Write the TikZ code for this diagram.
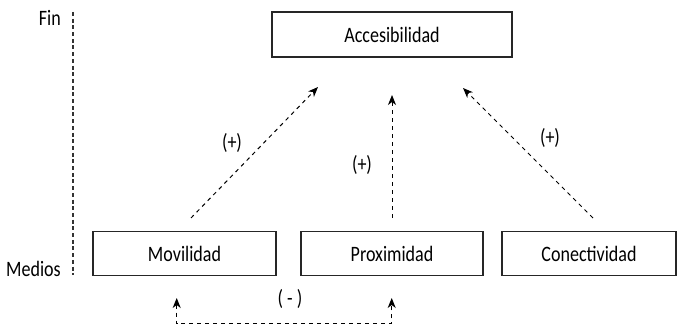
\documentclass[tikz,border=0pt]{standalone}
\usepackage{fontspec}
\setmainfont[FakeStretch=0.82]{Carlito}
\usetikzlibrary{arrows.meta}
\begin{document}
\begin{tikzpicture}[x=1pt,y=1pt,
  box/.style={draw=black!85,line width=1.1pt,minimum height=44pt,inner sep=0pt,font=\fontsize{22}{24}\selectfont},
  lbl/.style={font=\fontsize{22}{24}\selectfont,inner sep=0pt},
  conn/.style={dash pattern=on 4pt off 4pt,line width=1pt,-{Stealth[length=10pt,width=8pt,inset=3pt]}},
  axis/.style={line width=1.3pt,dash pattern=on 4pt off 2.7pt,draw=black!80}]
\useasboundingbox (0,0) rectangle (677,329);
\node[box,minimum width=240pt,minimum height=45pt] (acc) at (392,294.5) {Accesibilidad};
\node[box,minimum width=183pt] (mov) at (184.5,75.5) {Movilidad};
\node[box,minimum width=182pt] (prox) at (392,75.5) {Proximidad};
\node[box,minimum width=174pt] (con) at (589,75.5) {Conectividad};
\coordinate (axtop) at (73,317);
\coordinate (axbot) at (73,54);
\draw[axis] (axtop) -- (axbot);
\node[lbl,anchor=east] (fin) at (61,311) {Fin};
\node[lbl,anchor=east] (medios) at (61,60) {Medios};
\coordinate (m1) at (191,111);
\coordinate (m2) at (318,242);
\coordinate (p1) at (392,111);
\coordinate (p2) at (392,234);
\coordinate (c1) at (593,111);
\coordinate (c2) at (463,241);
\draw[conn] (m1) -- (m2);
\draw[conn] (p1) -- (p2);
\draw[conn] (c1) -- (c2);
\node[lbl] (lm) at (232,186) {(+)};
\node[lbl] (lp) at (362,164) {(+)};
\node[lbl] (lc) at (550,191) {(+)};
\coordinate (b1) at (176.7,31);
\coordinate (b2) at (391.7,31);
\coordinate (bl) at (0,5);
\draw[dash pattern=on 4pt off 4pt,line width=1pt,{Stealth[length=10pt,width=8pt,inset=3pt]}-{Stealth[length=10pt,width=8pt,inset=3pt]}] (b1) -- (b1 |- bl) -- (b2 |- bl) -- (b2);
\node[lbl] (lmin) at (290,30) {( - )};
\end{tikzpicture}
\end{document}
